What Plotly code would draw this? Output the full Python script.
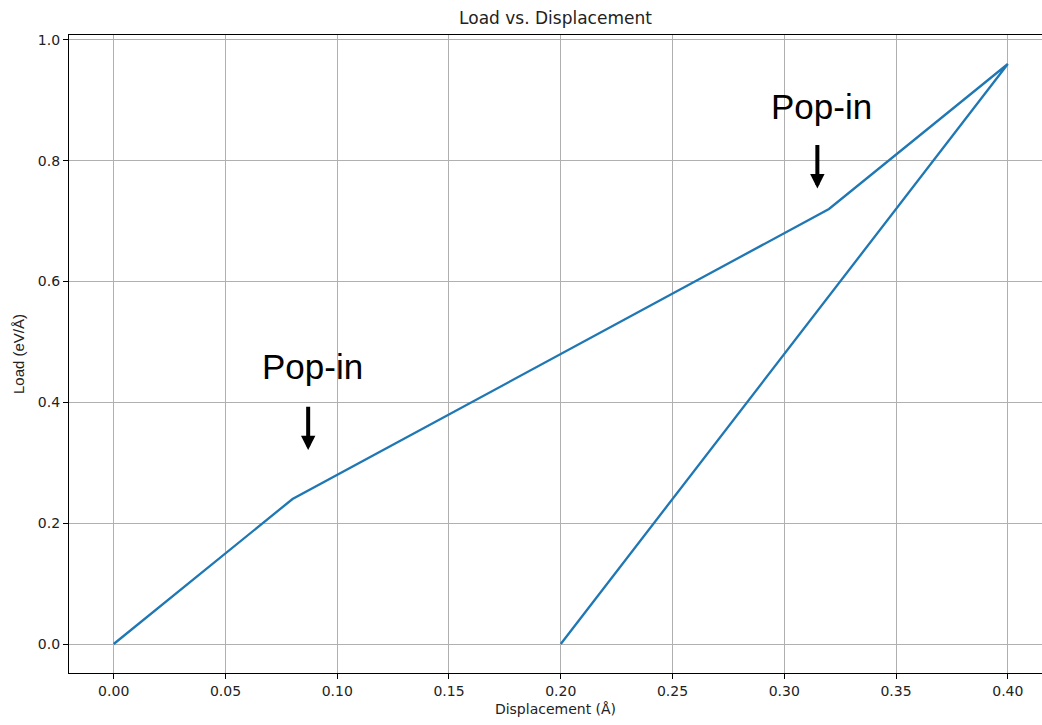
import plotly.graph_objects as go

displacement = [0.0, 0.08, 0.32, 0.40, 0.20]
load = [0.0, 0.24, 0.72, 0.96, 0.0]

x_ticks = [0.0, 0.05, 0.10, 0.15, 0.20, 0.25, 0.30, 0.35, 0.40]
y_ticks = [0.0, 0.2, 0.4, 0.6, 0.8, 1.0]

popin_labels = ["Pop-in", "Pop-in"]
popin_text_x = [0.0890, 0.3165]
popin_text_y = [0.4597, 0.8889]
popin_arrow_x = [0.087, 0.3148]
popin_arrow_tip = [0.321, 0.754]
popin_arrow_tail = [0.395, 0.8285]

fig = go.Figure()
fig.add_trace(go.Scatter(x=displacement, y=load, mode="lines",
                         line=dict(color="#1f77b4", width=2.3), showlegend=False))

for lab, tx, ty in zip(popin_labels, popin_text_x, popin_text_y):
    fig.add_annotation(x=tx, y=ty, xref="x", yref="y", text=lab, showarrow=False,
                       font=dict(family="Liberation Sans, Arial", size=35, color="black"),
                       xanchor="center", yanchor="middle")
for ax_, tip, tail in zip(popin_arrow_x, popin_arrow_tip, popin_arrow_tail):
    fig.add_annotation(x=ax_, y=tip, ax=ax_, ay=tail, xref="x", yref="y", axref="x", ayref="y",
                       text="", showarrow=True, arrowhead=2, arrowsize=0.72, arrowwidth=4,
                       arrowcolor="black", standoff=0)

axis_font = dict(family="DejaVu Sans", size=14, color="#222")
fig.update_layout(
    width=1042, height=725,
    margin=dict(l=69, r=0, t=35, b=52),
    plot_bgcolor="white", paper_bgcolor="white",
    title=dict(text="Load vs. Displacement", x=(69 + 1042) / 2 / 1042, xanchor="center",
               y=1 - 18 / 725, yanchor="middle",
               font=dict(family="DejaVu Sans", size=17, color="#222")),
    xaxis=dict(range=[-0.02, 0.4153], tickvals=x_ticks, tickformat=".2f",
               showgrid=True, gridcolor="#b0b0b0", gridwidth=1.15,
               showline=True, linecolor="black", linewidth=1.2, mirror=True,
               ticks="outside", ticklen=5, tickcolor="black", tickwidth=1.1,
               tickfont=axis_font, zeroline=False,
               title=dict(text="Displacement (Å)", font=axis_font, standoff=6)),
    yaxis=dict(range=[-0.048, 1.008], tickvals=y_ticks, tickformat=".1f",
               showgrid=True, gridcolor="#b0b0b0", gridwidth=1.15,
               showline=True, linecolor="black", linewidth=1.2, mirror=False,
               ticks="outside", ticklen=5, tickcolor="black", tickwidth=1.1,
               tickfont=axis_font, zeroline=False,
               title=dict(text="Load (eV/Å)", font=dict(family="Liberation Sans, Arial", size=15, color="#222"),
                          standoff=9)),
)

fig.write_html("out.html")
